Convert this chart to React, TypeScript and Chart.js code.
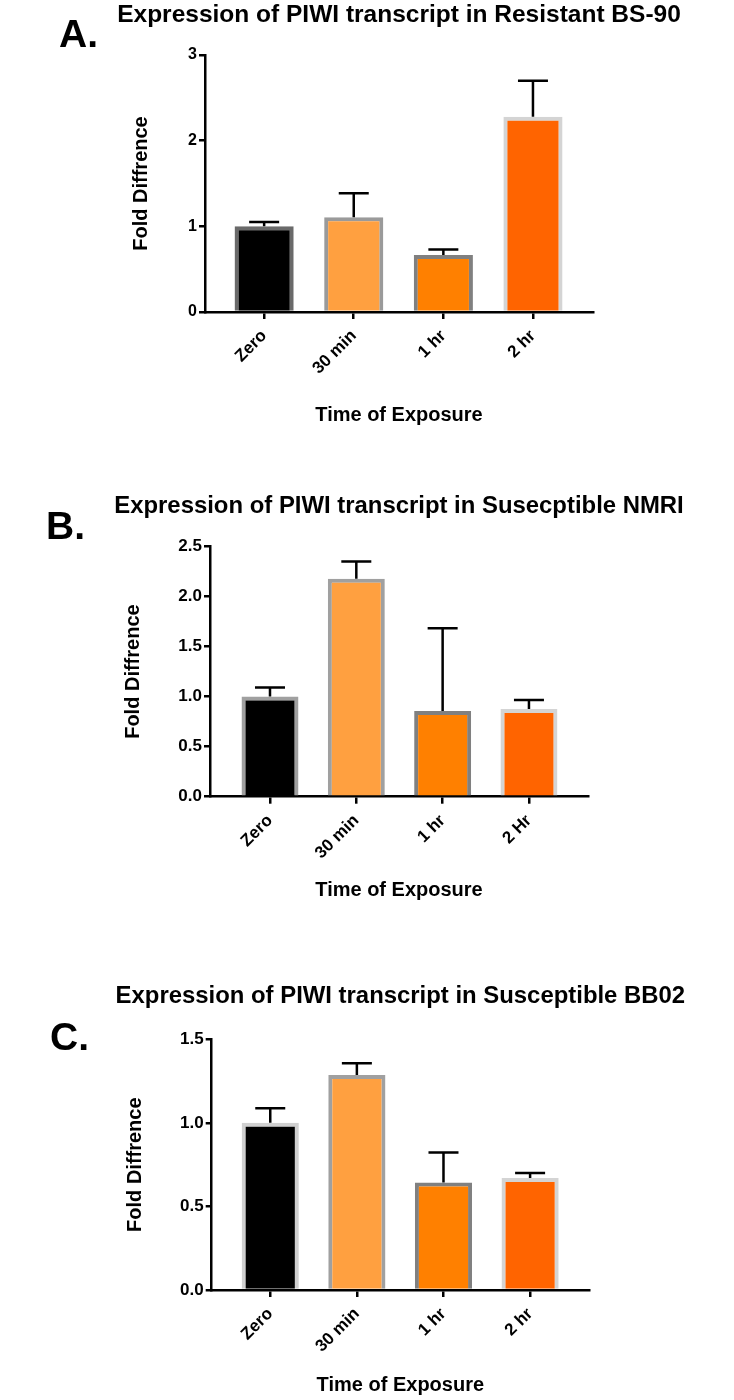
import React, { useEffect, useRef } from "react";
import { Chart, registerables } from "chart.js";

Chart.register(...registerables);

// ---------- data ----------
const categoriesA = ["Zero", "30 min", "1 hr", "2 hr"];
const valuesA = [1.0, 1.105, 0.665, 2.28];
const errorsA = [0.05, 0.28, 0.065, 0.42];
const yTicksA = [0, 1, 2, 3];

const categoriesB = ["Zero", "30 min", "1 hr", "2 Hr"];
const valuesB = [1.0, 2.177, 0.857, 0.877];
const errorsB = [0.09, 0.173, 0.827, 0.09];
const yTicksB = [0, 0.5, 1.0, 1.5, 2.0, 2.5];

const categoriesC = ["Zero", "30 min", "1 hr", "2 hr"];
const valuesC = [1.0, 1.287, 0.643, 0.67];
const errorsC = [0.088, 0.07, 0.179, 0.03];
const yTicksC = [0, 0.5, 1.0, 1.5];

const titleA = "Expression of PIWI transcript in Resistant BS-90";
const titleB = "Expression of PIWI transcript in Susecptible NMRI";
const titleC = "Expression of PIWI transcript in Susceptible BB02";
const yTitle = "Fold Diffrence";
const xTitle = "Time of Exposure";

const fillColors = ["#000000", "#FFA040", "#FF8000", "#FF6400"];
const borderColorsA = ["#6a6a6a", "#9a9a9a", "#808080", "#d4d4d4"];
const borderColorsB = ["#a0a0a0", "#a0a0a0", "#808080", "#d4d4d4"];
const borderColorsC = ["#d0d0d0", "#a0a0a0", "#808080", "#d4d4d4"];

const FONT = "'Liberation Sans', Arial, Helvetica, sans-serif";

type PanelCfg = {
  top: number;
  height: number;
  letter: string;
  letterX: number;
  letterTop: number;
  title: string;
  titleBaseline: number;
  titleFont: number;
  categories: string[];
  values: number[];
  errors: number[];
  yTicks: number[];
  decimals: number;
  borderColors: string[];
  padTop: number;
  padLeft: number;
  padRight: number;
  padBottom: number;
  yAxisWidth: number;
  xAxisHeight: number;
  xMin: number;
  xMax: number;
  yTickFont: number;
  xTickFont: number;
};

const panels: PanelCfg[] = [
  {
    top: 0, height: 440, letter: "A.", letterX: 59, letterTop: 14,
    title: titleA, titleBaseline: 22, titleFont: 24.5,
    categories: categoriesA, values: valuesA, errors: errorsA,
    yTicks: yTicksA, decimals: 0, borderColors: borderColorsA,
    padTop: 55, padLeft: 129, padRight: 141, padBottom: 13,
    yAxisWidth: 76, xAxisHeight: 115, xMin: -0.66, xMax: 3.67,
    yTickFont: 16, xTickFont: 17,
  },
  {
    top: 480, height: 440, letter: "B.", letterX: 46, letterTop: 506,
    title: titleB, titleBaseline: 33, titleFont: 23.9,
    categories: categoriesB, values: valuesB, errors: errorsB,
    yTicks: yTicksB, decimals: 1, borderColors: borderColorsB,
    padTop: 66.5, padLeft: 121, padRight: 146, padBottom: 18,
    yAxisWidth: 89, xAxisHeight: 105.3, xMin: -0.695, xMax: 3.684,
    yTickFont: 17, xTickFont: 17,
  },
  {
    top: 960, height: 440, letter: "C.", letterX: 50, letterTop: 1017,
    title: titleC, titleBaseline: 43, titleFont: 23.9,
    categories: categoriesC, values: valuesC, errors: errorsC,
    yTicks: yTicksC, decimals: 1, borderColors: borderColorsC,
    padTop: 79.3, padLeft: 123.5, padRight: 145, padBottom: 3,
    yAxisWidth: 88.2, xAxisHeight: 107, xMin: -0.676, xMax: 3.68,
    yTickFont: 17, xTickFont: 17,
  },
];

const errorBarPlugin = {
  id: "errorBars",
  afterDatasetsDraw(chart: any, _args: any, opts: any) {
    const errs: number[] = opts.errors || [];
    const meta = chart.getDatasetMeta(0);
    const yScale = chart.scales.y;
    const ctx = chart.ctx;
    ctx.save();
    ctx.strokeStyle = "#000";
    ctx.lineWidth = 2.5;
    meta.data.forEach((bar: any, i: number) => {
      const v = chart.data.datasets[0].data[i].y;
      const y0 = yScale.getPixelForValue(v);
      const y1 = yScale.getPixelForValue(v + errs[i]);
      ctx.beginPath();
      ctx.moveTo(bar.x, y0);
      ctx.lineTo(bar.x, y1);
      ctx.moveTo(bar.x - 15, y1);
      ctx.lineTo(bar.x + 15, y1);
      ctx.stroke();
    });
    ctx.restore();
  },
};

const panelTitlePlugin = {
  id: "panelTitle",
  afterDraw(chart: any, _args: any, opts: any) {
    const ctx = chart.ctx;
    const { left, right } = chart.chartArea;
    ctx.save();
    ctx.fillStyle = "#000";
    ctx.font = `bold ${opts.size}px ${FONT}`;
    ctx.textAlign = "center";
    ctx.textBaseline = "alphabetic";
    ctx.fillText(opts.text, (left + right) / 2, opts.baseline);
    ctx.restore();
  },
};

function Panel({ cfg }: { cfg: PanelCfg }) {
  const ref = useRef<HTMLCanvasElement | null>(null);
  useEffect(() => {
    if (!ref.current) return;
    const chart = new Chart(ref.current, {
      type: "bar",
      data: {
        datasets: [
          {
            data: cfg.values.map((v, i) => ({ x: i, y: v })),
            backgroundColor: fillColors,
            borderColor: cfg.borderColors,
            borderWidth: 4,
            categoryPercentage: 1,
            barPercentage: 0.66,
          } as any,
        ],
      },
      options: {
        animation: false,
        responsive: false,
        devicePixelRatio: 1,
        layout: {
          padding: { top: cfg.padTop, left: cfg.padLeft, right: cfg.padRight, bottom: cfg.padBottom },
        },
        plugins: {
          legend: { display: false },
          tooltip: { enabled: false },
          title: { display: false },
          panelTitle: { text: cfg.title, baseline: cfg.titleBaseline, size: cfg.titleFont },
          errorBars: { errors: cfg.errors },
        } as any,
        scales: {
          x: {
            type: "linear",
            offset: false,
            min: cfg.xMin,
            max: cfg.xMax,
            afterBuildTicks: (s: any) => {
              s.ticks = cfg.categories.map((_, i) => ({ value: i }));
            },
            afterFit: (s: any) => {
              s.height = cfg.xAxisHeight;
            },
            grid: {
              display: true,
              offset: false,
              drawOnChartArea: false,
              drawTicks: true,
              tickLength: 7,
              tickColor: "#000",
              tickWidth: 2.5,
              color: "#000",
              lineWidth: 2.5,
            },
            border: { display: true, color: "#000", width: 2.5 },
            ticks: {
              autoSkip: false,
              maxRotation: 45,
              minRotation: 45,
              padding: 7,
              color: "#000",
              font: { family: FONT, size: cfg.xTickFont, weight: "bold" },
              callback: (v: any) => cfg.categories[Math.round(Number(v))] ?? "",
            },
            title: {
              display: true,
              text: xTitle,
              color: "#000",
              font: { family: FONT, size: 20, weight: "bold", lineHeight: 1.2 },
              padding: { top: 0, bottom: 0 },
            },
          },
          y: {
            type: "linear",
            min: cfg.yTicks[0],
            max: cfg.yTicks[cfg.yTicks.length - 1],
            afterBuildTicks: (s: any) => {
              s.ticks = cfg.yTicks.map((v) => ({ value: v }));
            },
            afterFit: (s: any) => {
              s.width = cfg.yAxisWidth;
            },
            grid: {
              display: true,
              drawOnChartArea: false,
              drawTicks: true,
              tickLength: 6,
              tickColor: "#000",
              tickWidth: 2.5,
              color: "#000",
              lineWidth: 2.5,
            },
            border: { display: true, color: "#000", width: 2.5 },
            ticks: {
              padding: 2,
              color: "#000",
              font: { family: FONT, size: cfg.yTickFont, weight: "bold" },
              callback: (v: any) => Number(v).toFixed(cfg.decimals),
            },
            title: {
              display: true,
              text: yTitle,
              color: "#000",
              font: { family: FONT, size: 20, weight: "bold", lineHeight: 1.2 },
              padding: { top: 0, bottom: 0 },
            },
          },
        },
      } as any,
      plugins: [errorBarPlugin, panelTitlePlugin],
    });
    return () => chart.destroy();
  }, [cfg]);

  return (
    <>
      <canvas
        ref={ref}
        width={734}
        height={cfg.height}
        style={{ position: "absolute", left: 0, top: cfg.top, width: 734, height: cfg.height }}
      />
      <div
        style={{
          position: "absolute",
          left: cfg.letterX,
          top: cfg.letterTop,
          fontFamily: FONT,
          fontWeight: "bold",
          fontSize: 39,
          lineHeight: "39px",
          color: "#000",
        }}
      >
        {cfg.letter}
      </div>
    </>
  );
}

export default function App() {
  return (
    <div
      style={{
        position: "absolute",
        left: 0,
        top: 0,
        width: 734,
        height: 1400,
        background: "#fff",
        overflow: "hidden",
      }}
    >
      {panels.map((p) => (
        <Panel key={p.letter} cfg={p} />
      ))}
    </div>
  );
}
